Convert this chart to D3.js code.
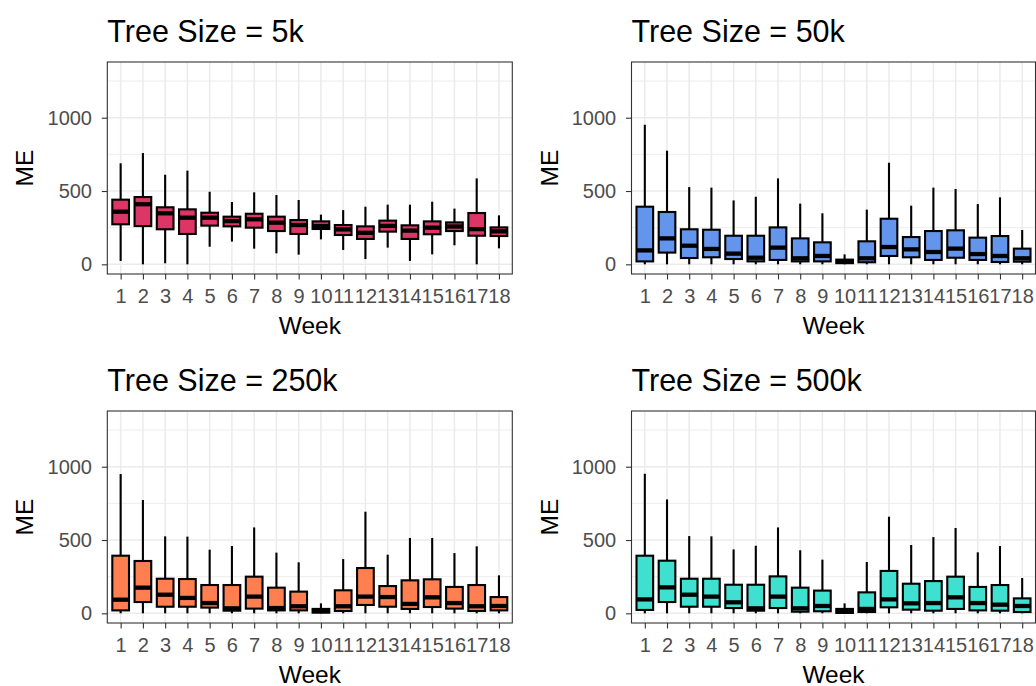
<!DOCTYPE html>
<html>
<head>
<meta charset="utf-8">
<script src="https://cdn.jsdelivr.net/npm/d3@7"></script>
<style>
  html, body { margin: 0; padding: 0; background: #fff; }
  svg { display: block; font-family: "Liberation Sans", Arial, Helvetica, sans-serif; }
</style>
</head>
<body>
<svg id="chart" width="1036" height="686"></svg>
<script>
// ---- data ----
const weeks = ["1","2","3","4","5","6","7","8","9","10","11","12","13","14","15","16","17","18"];
const yTicks = [0, 500, 1000];
const panelTitles = ["Tree Size = 5k", "Tree Size = 50k", "Tree Size = 250k", "Tree Size = 500k"];
const panelColors = ["#DC3566", "#6495ED", "#FF7F50", "#40E0D0"];

// Tree Size = 5k
const t5k_lo  = [23, 0, 7, 0, 120, 155, 107, 75, 66, 170, 98, 36, 114, 23, 68, 130, 0, 109];
const t5k_q1  = [273, 261, 239, 207, 264, 259, 250, 227, 207, 241, 200, 173, 223, 173, 205, 227, 195, 193];
const t5k_med = [359, 410, 348, 318, 318, 295, 307, 284, 268, 261, 238, 215, 262, 230, 250, 258, 240, 225];
const t5k_q3  = [441, 459, 389, 375, 352, 325, 345, 325, 302, 293, 268, 259, 298, 266, 293, 286, 350, 252];
const t5k_hi  = [689, 759, 611, 639, 495, 425, 491, 473, 439, 339, 370, 393, 407, 407, 427, 380, 586, 334];

// Tree Size = 50k
const t50k_lo  = [0, 0, 0, 0, 0, 0, 0, 0, 0, 0, 0, 0, 0, 0, 0, 0, 0, 0];
const t50k_q1  = [20, 80, 43, 48, 36, 20, 30, 20, 20, 8, 14, 57, 48, 30, 45, 30, 16, 18];
const t50k_med = [95, 177, 127, 105, 73, 45, 114, 41, 57, 20, 41, 118, 102, 84, 107, 70, 57, 41];
const t50k_q3  = [393, 357, 239, 236, 195, 195, 252, 177, 150, 32, 157, 311, 186, 227, 232, 182, 193, 107];
const t50k_hi  = [952, 775, 527, 523, 436, 461, 586, 414, 348, 68, 373, 693, 400, 523, 514, 411, 457, 234];

// Tree Size = 250k
const t250k_lo  = [0, 0, 0, 0, 0, 0, 0, 0, 0, 0, 0, 0, 0, 0, 0, 0, 0, 0];
const t250k_q1  = [20, 77, 45, 45, 39, 18, 32, 20, 20, 5, 16, 57, 45, 30, 43, 32, 16, 20];
const t250k_med = [93, 175, 127, 105, 70, 34, 114, 36, 48, 15, 48, 114, 111, 64, 109, 70, 48, 50];
const t250k_q3  = [393, 357, 236, 234, 193, 193, 250, 175, 148, 30, 157, 309, 186, 225, 232, 180, 193, 111];
const t250k_hi  = [950, 773, 525, 523, 434, 459, 586, 414, 348, 68, 370, 693, 400, 514, 514, 411, 457, 259];

// Tree Size = 500k
const t500k_lo  = [0, 0, 0, 0, 0, 0, 0, 0, 0, 0, 0, 0, 0, 0, 0, 0, 0, 0];
const t500k_q1  = [23, 77, 45, 45, 36, 18, 36, 11, 14, 3, 9, 41, 25, 18, 30, 20, 18, 9];
const t500k_med = [95, 177, 127, 114, 75, 34, 114, 34, 50, 12, 30, 95, 68, 70, 109, 70, 59, 50];
const t500k_q3  = [393, 359, 236, 236, 195, 195, 252, 175, 155, 30, 143, 289, 202, 220, 250, 180, 193, 102];
const t500k_hi  = [952, 777, 527, 525, 436, 461, 586, 430, 366, 68, 350, 659, 466, 520, 582, 416, 459, 241];

const panelStats = [
  [t5k_lo, t5k_q1, t5k_med, t5k_q3, t5k_hi],
  [t50k_lo, t50k_q1, t50k_med, t50k_q3, t50k_hi],
  [t250k_lo, t250k_q1, t250k_med, t250k_q3, t250k_hi],
  [t500k_lo, t500k_q1, t500k_med, t500k_q3, t500k_hi]
];

// ---- layout ----
const svg = d3.select("#chart");
const colLeft = [107.3, 631.5];
const colWidth = [405, 404];
const rowTop = [62, 411];
const panelH = 212;
const yDomain = [-66, 1380];

panelStats.forEach((stats, pi) => {
  const col = pi % 2, row = Math.floor(pi / 2);
  const left = colLeft[col], top = rowTop[row], W = colWidth[col], H = panelH;
  const [lo, q1, med, q3, hi] = stats;
  const data = weeks.map((w, i) => ({ w, lo: lo[i], q1: q1[i], med: med[i], q3: q3[i], hi: hi[i] }));

  const x = d3.scalePoint().domain(weeks).range([0, W]).padding(0.6);
  const y = d3.scaleLinear().domain(yDomain).range([H, 0]);
  const bw = x.step() * 0.75;

  const g = svg.append("g").attr("transform", `translate(${left},${top})`);

  // background
  g.append("rect").attr("width", W).attr("height", H).attr("fill", "#fff");

  // minor grid
  const minor = [250, 750, 1250];
  g.selectAll(".gmin").data(minor).enter().append("line")
    .attr("x1", 0).attr("x2", W).attr("y1", d => y(d)).attr("y2", d => y(d))
    .attr("stroke", "#ebebeb").attr("stroke-width", 0.9);
  // major grid
  g.selectAll(".gmaj").data(yTicks).enter().append("line")
    .attr("x1", 0).attr("x2", W).attr("y1", d => y(d)).attr("y2", d => y(d))
    .attr("stroke", "#ebebeb").attr("stroke-width", 1.5);
  g.selectAll(".gmajx").data(weeks).enter().append("line")
    .attr("x1", d => x(d)).attr("x2", d => x(d)).attr("y1", 0).attr("y2", H)
    .attr("stroke", "#ebebeb").attr("stroke-width", 1.5);

  // boxes
  const bx = g.selectAll(".box").data(data).enter().append("g");
  bx.append("line")
    .attr("x1", d => x(d.w)).attr("x2", d => x(d.w))
    .attr("y1", d => y(d.hi)).attr("y2", d => y(d.q3))
    .attr("stroke", "#000").attr("stroke-width", 2.1);
  bx.append("line")
    .attr("x1", d => x(d.w)).attr("x2", d => x(d.w))
    .attr("y1", d => y(d.q1)).attr("y2", d => y(d.lo))
    .attr("stroke", "#000").attr("stroke-width", 2.1);
  bx.append("rect")
    .attr("x", d => x(d.w) - bw / 2).attr("width", bw)
    .attr("y", d => y(d.q3)).attr("height", d => y(d.q1) - y(d.q3))
    .attr("fill", panelColors[pi]).attr("stroke", "#000").attr("stroke-width", 2.1);
  bx.append("line")
    .attr("x1", d => x(d.w) - bw / 2).attr("x2", d => x(d.w) + bw / 2)
    .attr("y1", d => y(d.med)).attr("y2", d => y(d.med))
    .attr("stroke", "#000").attr("stroke-width", 4.3);

  // border
  g.append("rect").attr("width", W).attr("height", H)
    .attr("fill", "none").attr("stroke", "#333").attr("stroke-width", 1.1);

  // axes
  const ax = g.append("g").call(d3.axisLeft(y).tickValues(yTicks).tickFormat(d3.format("d"))
    .tickSize(5.5).tickPadding(9.8));
  const axb = g.append("g").attr("transform", `translate(0,${H})`)
    .call(d3.axisBottom(x).tickSize(5.5).tickPadding(8.8));
  [ax, axb].forEach(a => {
    a.select(".domain").remove();
    a.selectAll(".tick line").attr("stroke", "#333").attr("stroke-width", 1.1);
    a.selectAll(".tick text").attr("fill", "#4d4d4d").style("font-size", "20px")
      .style("font-family", '"Liberation Sans", Arial, sans-serif');
  });

  // titles
  g.append("text").attr("x", 0).attr("y", -20)
    .style("font-size", "30.5px").attr("fill", "#000").text(panelTitles[pi]);
  g.append("text").attr("x", W / 2).attr("y", H + 59.5).attr("text-anchor", "middle")
    .style("font-size", "24.5px").attr("fill", "#000").text("Week");
  g.append("text").attr("transform", `translate(-74,${H / 2}) rotate(-90)`)
    .attr("text-anchor", "middle")
    .style("font-size", "24.5px").attr("fill", "#000").text("ME");
});
</script>
</body>
</html>
